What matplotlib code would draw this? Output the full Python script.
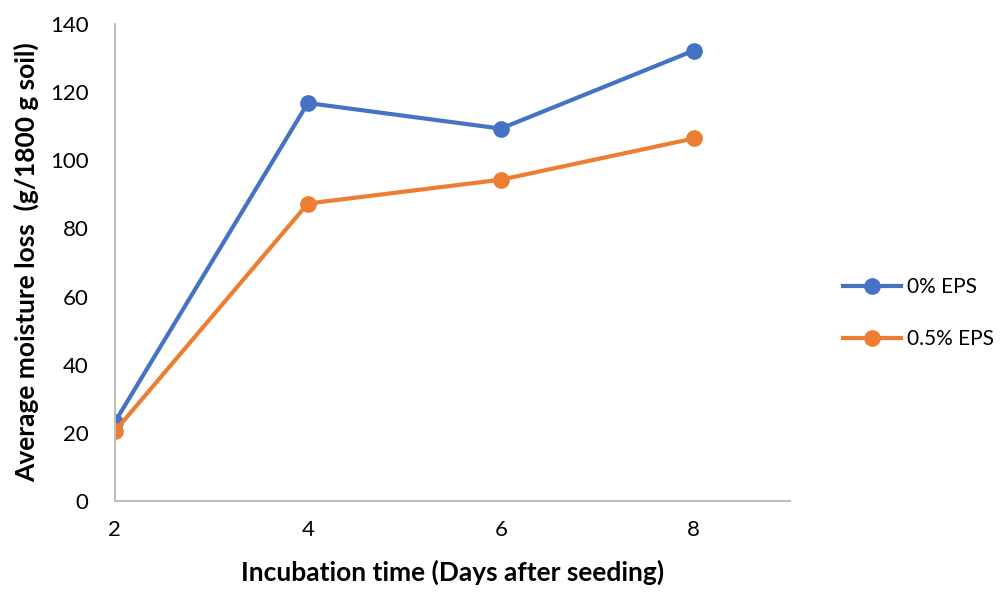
import numpy as np
import matplotlib.pyplot as plt

plt.rcParams['font.family'] = ['Lato', 'DejaVu Sans']

# Feuchteverlust je Inkubationstag
days = [2, 4, 6, 8]
eps_0 = [23.2, 116.8, 109.3, 132.2]
eps_05 = [20.5, 87.3, 94.3, 106.4]

fig = plt.figure(figsize=(10.08, 5.94), dpi=100)
ax = fig.add_axes([0.114, 0.1566, 0.670, 0.803])

ax.plot(days, eps_0, '-o', color='#4472C4', lw=3, ms=11, label='0% EPS')
ax.plot(days, eps_05, '-o', color='#ED7D31', lw=3, ms=11, label='0.5% EPS')

ax.set_xlim(2, 9)
ax.set_ylim(0, 140)
ax.set_xticks(days)
ax.set_yticks(np.arange(0, 141, 20))
ax.tick_params(length=0, labelsize=16, pad=14)
ax.tick_params(axis='y', pad=19)

for s in ['top', 'right']:
    ax.spines[s].set_visible(False)
for s in ['left', 'bottom']:
    ax.spines[s].set_color('#BFBFBF')
    ax.spines[s].set_linewidth(1.5)

ax.set_xlabel("Incubation time (Days after seeding)", fontsize=19, fontweight='bold', labelpad=14)
ax.set_ylabel("Average moisture loss  (g/1800 g soil)", fontsize=19, fontweight='bold', labelpad=8)

ax.legend(loc='center left', bbox_to_anchor=(1.05, 0.394), frameon=False, fontsize=15,
          handlelength=2.8, labelspacing=1.55, handletextpad=0.3)

plt.savefig("out.png", dpi=100)
